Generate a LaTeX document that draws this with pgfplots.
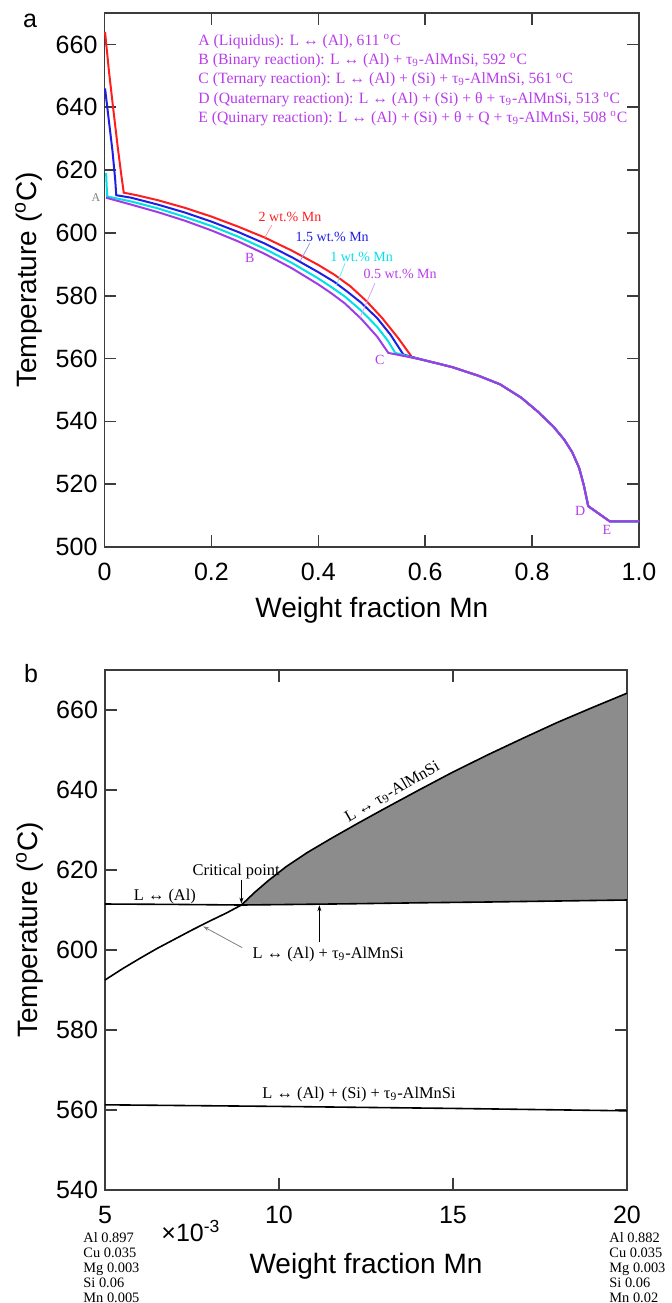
\documentclass[border=0pt]{standalone}
\usepackage{pgfplots}
\pgfplotsset{compat=1.18}
\usetikzlibrary{arrows.meta}
\usepackage{fontspec}
\setmainfont{Liberation Serif}
\setsansfont{Liberation Sans}
\definecolor{cred}{RGB}{255,30,30}
\definecolor{cblue}{RGB}{30,30,230}
\definecolor{ccyan}{RGB}{0,225,230}
\definecolor{cpurp}{RGB}{160,60,230}
\definecolor{tpurp}{RGB}{185,60,235}
\definecolor{fillgray}{RGB}{140,140,140}
\definecolor{axgray}{RGB}{60,60,60}
\pgfplotsset{mystyle/.style={scale only axis, tick align=inside, tick pos=both,
  major tick length=6pt,
  axis line style={line width=0.9pt, color=axgray},
  tick style={line width=0.8pt, color=axgray},
  tick label style={font=\fontsize{12.5}{13}\selectfont\sffamily},
  /pgf/number format/assume math mode=true,
  xticklabel style={yshift=-4.5pt},
  clip=false}}
\begin{document}
\begin{tikzpicture}
\path[use as bounding box] (0,0) rectangle (335.5pt,-651.5pt);
% ---------------- panel a ----------------
\begin{axis}[mystyle, at={(52.25pt,-6.5pt)}, anchor=north west,
  width=267.25pt, height=267pt, xmin=0, xmax=1, ymin=500, ymax=670,
  xtick={0,0.2,0.4,0.6,0.8,1}, xticklabels={0,0.2,0.4,0.6,0.8,1.0},
  ytick={500,520,...,660}]
% red 2 wt.% Mn
\addplot[cred, line width=1pt] coordinates {
(0.001,664.0) (0.008,652) (0.016,640) (0.025,627) (0.031,619) (0.036,612.8) (0.06,612.0) (0.10,610.4)
(0.15,608.0) (0.20,605.2) (0.25,602.0) (0.30,598.5) (0.35,594.4) (0.40,589.8)
(0.43,586.7) (0.46,583.0) (0.49,578.3) (0.52,572.8) (0.55,566.4) (0.575,560.5)
(0.60,559.4) (0.65,557.3) (0.70,554.5) (0.74,551.8) (0.78,547.5) (0.81,543.2)
(0.84,538.3) (0.86,534.2) (0.875,530.2) (0.888,525.2) (0.897,519.5) (0.905,513.0)
(0.92,511.2) (0.945,508.2) (1.0,508.2)};
% blue 1.5 wt.% Mn
\addplot[cblue, line width=1pt] coordinates {
(0.001,646) (0.008,636) (0.015,626) (0.020,617) (0.022,612.0) (0.05,611.2) (0.10,609.0)
(0.15,606.5) (0.20,603.6) (0.25,600.3) (0.30,596.6) (0.35,592.3) (0.40,587.5)
(0.43,584.4) (0.455,581.2) (0.48,577.8) (0.51,572.9) (0.535,567.6) (0.559,561.3) (0.575,560.5)
(0.60,559.4) (0.65,557.3) (0.70,554.5) (0.74,551.8) (0.78,547.5) (0.81,543.2)
(0.84,538.3) (0.86,534.2) (0.875,530.2) (0.888,525.2) (0.897,519.5) (0.905,513.0)
(0.92,511.2) (0.945,508.2) (1.0,508.2)};
% cyan 1 wt.% Mn
\addplot[ccyan, line width=1pt] coordinates {
(0.003,619) (0.005,611.6) (0.05,610.0) (0.10,607.8) (0.15,605.1) (0.20,602.2)
(0.25,598.8) (0.30,594.9) (0.35,590.5) (0.40,585.5) (0.425,582.7) (0.45,579.7) (0.48,575.3)
(0.51,570.1) (0.53,565.7) (0.544,561.8) (0.575,560.4)
(0.60,559.4) (0.65,557.3) (0.70,554.5) (0.74,551.8) (0.78,547.5) (0.81,543.2)
(0.84,538.3) (0.86,534.2) (0.875,530.2) (0.888,525.2) (0.897,519.5) (0.905,513.0)
(0.92,511.2) (0.945,508.2) (1.0,508.2)};
% purple 0.5 wt.% Mn
\addplot[cpurp, line width=1pt] coordinates {
(0.003,611.2) (0.05,609.0) (0.10,606.6) (0.15,603.9) (0.20,600.8) (0.25,597.3)
(0.30,593.3) (0.35,588.8) (0.40,583.6) (0.425,580.7) (0.45,577.5) (0.48,572.7) (0.51,567.0)
(0.531,561.8) (0.575,560.3)
(0.60,559.4) (0.65,557.3) (0.70,554.5) (0.74,551.8) (0.78,547.5) (0.81,543.2)
(0.84,538.3) (0.86,534.2) (0.875,530.2) (0.888,525.2) (0.897,519.5) (0.905,513.0)
(0.92,511.2) (0.945,508.2) (1.0,508.2)};
% leaders
\draw[cred!45, line width=0.4pt] (axis cs:0.313,602.5) -- (axis cs:0.300,598.5);
\draw[cblue!45, line width=0.4pt] (axis cs:0.384,596.7) -- (axis cs:0.366,591.0);
\draw[ccyan!60, line width=0.4pt] (axis cs:0.450,590.3) -- (axis cs:0.433,583.0);
\draw[cpurp!45, line width=0.4pt] (axis cs:0.506,584.0) -- (axis cs:0.478,573.0);
\node[font=\fontsize{7}{8}\selectfont, text=cred] at (axis cs:0.347,605.0) {2 wt.\% Mn};
\node[font=\fontsize{7}{8}\selectfont, text=cblue] at (axis cs:0.426,598.6) {1.5 wt.\% Mn};
\node[font=\fontsize{7}{8}\selectfont, text=ccyan] at (axis cs:0.481,592.5) {1 wt.\% Mn};
\node[font=\fontsize{7}{8}\selectfont, text=tpurp] at (axis cs:0.553,586.9) {0.5 wt.\% Mn};
% point labels
\node[font=\fontsize{6}{7}\selectfont, text=gray] at (axis cs:-0.016,611.1) {A};
\node[font=\fontsize{7}{8}\selectfont, text=tpurp] at (axis cs:0.272,591.9) {B};
\node[font=\fontsize{7}{8}\selectfont, text=tpurp] at (axis cs:0.515,559.6) {C};
\node[font=\fontsize{7}{8}\selectfont, text=tpurp] at (axis cs:0.890,511.5) {D};
\node[font=\fontsize{7}{8}\selectfont, text=tpurp] at (axis cs:0.940,505.6) {E};
\end{axis}
% annotation block
\begin{scope}[every node/.style={anchor=base west, inner sep=0pt, text=tpurp, font=\fontsize{7.85}{9}\selectfont}]
\node at (99pt,-22.65pt) {A (Liquidus): L ↔ (Al), 611 \textsuperscript{o}C};
\node at (99pt,-32.3pt) {B (Binary reaction): L ↔ (Al) + τ\textsubscript{9}-AlMnSi, 592 \textsuperscript{o}C};
\node at (99pt,-41.9pt) {C (Ternary reaction): L ↔ (Al) + (Si) + τ\textsubscript{9}-AlMnSi, 561 \textsuperscript{o}C};
\node at (99pt,-51.5pt) {D (Quaternary reaction): L ↔ (Al) + (Si) + θ + τ\textsubscript{9}-AlMnSi, 513 \textsuperscript{o}C};
\node at (99pt,-61.15pt) {E (Quinary reaction): L ↔ (Al) + (Si) + θ + Q + τ\textsubscript{9}-AlMnSi, 508 \textsuperscript{o}C};
\end{scope}
\node[font=\fontsize{12.5}{13}\selectfont\sffamily, anchor=base] at (15pt,-13.9pt) {a};
\node[font=\fontsize{14}{15}\selectfont\sffamily, rotate=90] at (14.25pt,-140pt) {Temperature (\textsuperscript{o}C)};
\node[font=\fontsize{14}{15}\selectfont\sffamily] at (185.9pt,-305pt) {Weight fraction Mn};
% ---------------- panel b ----------------
\begin{axis}[mystyle, at={(52.5pt,-335pt)}, anchor=north west,
  width=261pt, height=260pt, xmin=5, xmax=20, ymin=540, ymax=670,
  xtick={5,10,15,20}, ytick={540,560,...,660}]
\addplot[fill=fillgray, draw=none] coordinates {
(8.92,611.25) (10,611.35) (12,611.55) (14,611.8) (16,612.0) (18,612.25) (20,612.5)
(20,664.2) (19,660.6) (18,656.9) (17,652.9) (16,648.8) (15,644.5) (14,639.9) (13,635.2)
(12.27,631.7) (11.5,627.9) (10.8,624.3) (10.2,620.8) (9.7,617.4) (9.3,614.4) (8.92,611.25)};
\addplot[black, line width=0.8pt] coordinates {
(8.92,611.25) (9.3,614.4) (9.7,617.4) (10.2,620.8) (10.8,624.3) (11.5,627.9) (12.27,631.7)
(13,635.2) (14,639.9) (15,644.5) (16,648.8) (17,652.9) (18,656.9) (19,660.6) (20,664.2)};
\addplot[black, line width=0.8pt] coordinates {
(5,611.5) (7,611.4) (8.92,611.25) (10,611.35) (12,611.55) (14,611.8) (16,612.0) (18,612.25) (20,612.5)};
\addplot[black, line width=0.8pt] coordinates {
(5,592.5) (5.5,595.3) (6,597.9) (6.5,600.4) (7,602.7) (7.5,605.0) (8,607.2) (8.5,609.3) (8.92,611.25)};
\addplot[black, line width=0.8pt] coordinates {
(5,561.3) (10,560.9) (15,560.4) (20,559.8)};
% annotations
\node[font=\fontsize{8.2}{9}\selectfont, rotate=30, anchor=south, inner sep=1.5pt] at (axis cs:13.4,637.3) {L ↔ τ\textsubscript{9}-AlMnSi};
\node[font=\fontsize{8.2}{9}\selectfont, anchor=base] at (axis cs:8.77,618.6) {Critical point};
\draw[-{Stealth[length=3pt,width=2pt]}, line width=0.4pt] (axis cs:8.92,617.6) -- (axis cs:8.92,611.6);
\node[font=\fontsize{8.2}{9}\selectfont, anchor=base] at (axis cs:6.72,612.3) {L ↔ (Al)};
\draw[-{Stealth[length=3pt,width=2pt]}, line width=0.4pt] (axis cs:11.16,602.1) -- (axis cs:11.16,611.2);
\node[font=\fontsize{8.2}{9}\selectfont, anchor=base west] at (axis cs:9.04,597.8) {L ↔ (Al) + τ\textsubscript{9}-AlMnSi};
\draw[-{Stealth[length=3pt,width=2pt]}, line width=0.4pt, gray] (axis cs:8.94,600.6) -- (axis cs:7.82,605.9);
\node[font=\fontsize{8.2}{9}\selectfont, anchor=base] at (axis cs:12.3,563.0) {L ↔ (Al) + (Si) + τ\textsubscript{9}-AlMnSi};
\end{axis}
\node[font=\fontsize{12.5}{13}\selectfont\sffamily, anchor=base] at (15.5pt,-341pt) {b};
\node[font=\fontsize{14}{15}\selectfont\sffamily, rotate=90] at (14.75pt,-465pt) {Temperature (\textsuperscript{o}C)};
\node[font=\fontsize{14}{15}\selectfont\sffamily] at (183pt,-633pt) {Weight fraction Mn};
\node[font=\fontsize{12.5}{13}\selectfont\sffamily, anchor=base west, inner sep=0pt] at (80.5pt,-620.5pt) {×10\textsuperscript{-3}};
\begin{scope}[every node/.style={anchor=base west, inner sep=0pt, font=\fontsize{7.2}{8}\selectfont}]
\node at (41.5pt,-621pt) {Al 0.897};
\node at (41.5pt,-628.6pt) {Cu 0.035};
\node at (41.5pt,-636.2pt) {Mg 0.003};
\node at (41.5pt,-643.8pt) {Si 0.06};
\node at (41.5pt,-651.2pt) {Mn 0.005};
\node at (304.5pt,-621pt) {Al 0.882};
\node at (304.5pt,-628.6pt) {Cu 0.035};
\node at (304.5pt,-636.2pt) {Mg 0.003};
\node at (304.5pt,-643.8pt) {Si 0.06};
\node at (304.5pt,-651.2pt) {Mn 0.02};
\end{scope}
\end{tikzpicture}
\end{document}
